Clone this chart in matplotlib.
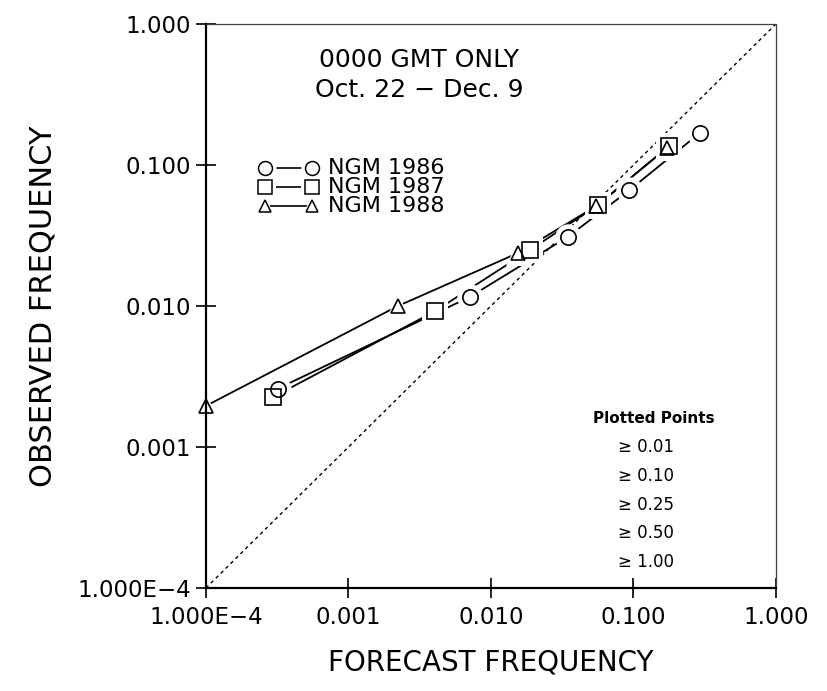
import matplotlib
matplotlib.use("Agg")
import matplotlib.pyplot as plt
import numpy as np

# forecast / observed frequencies
fc_1986 = [3.2e-4, 0.0071, 0.0347, 0.094, 0.293]
ob_1986 = [0.0026, 0.0116, 0.031, 0.0665, 0.169]

fc_1987 = [2.95e-4, 0.00405, 0.0188, 0.0564, 0.177]
ob_1987 = [0.00226, 0.0092, 0.025, 0.052, 0.136]

fc_1988 = [1.0e-4, 0.00222, 0.0155, 0.0546, 0.172]
ob_1988 = [0.00196, 0.0100, 0.0238, 0.051, 0.132]

series = [
    ("NGM 1986", "o", fc_1986, ob_1986),
    ("NGM 1987", "s", fc_1987, ob_1987),
    ("NGM 1988", "^", fc_1988, ob_1988),
]

tick_vals = [1e-4, 1e-3, 1e-2, 1e-1, 1.0]
tick_labels = ["1.000E\u22124", "0.001", "0.010", "0.100", "1.000"]
plotted_points = ["0.01", "0.10", "0.25", "0.50", "1.00"]

fig = plt.figure(figsize=(8.27, 6.91), dpi=100)
ax = fig.add_axes([0.249, 0.149, 0.689, 0.816])
ax.set_xscale("log")
ax.set_yscale("log")
ax.set_xlim(1e-4, 1.0)
ax.set_ylim(1e-4, 1.0)

# perfect reliability diagonal
ax.plot([1e-4, 1.0], [1e-4, 1.0], color="black", lw=1.0,
        linestyle=(0, (2.5, 2.5)), zorder=1)

msize = {"o": 11, "s": 11, "^": 10}
for name, mk, fx, fy in series:
    ax.plot(fx, fy, color="black", lw=1.3, zorder=1.5, clip_on=False)
    # white halo so the line stops short of each marker (kept under the spines)
    ax.plot(fx, fy, linestyle="none", marker=mk, ms=msize[mk] + 8,
            mfc="white", mec="white", mew=0, zorder=1.8, clip_on=False)
    ax.plot(fx, fy, linestyle="none", marker=mk, ms=msize[mk],
            mfc="none", mec="black", mew=1.2, zorder=4, clip_on=False)

# legend drawn by hand: marker - line - marker  label
leg_y = [0.745, 0.711, 0.677]
for (name, mk, fx, fy), yy in zip(series, leg_y):
    ax.plot([0.1035, 0.186], [yy, yy], color="black", lw=1.2,
            transform=ax.transAxes, zorder=2)
    ax.plot([0.1035, 0.186], [yy, yy], linestyle="none", marker=mk,
            ms=msize[mk] + 5, mfc="white", mec="white", mew=0,
            transform=ax.transAxes, zorder=3)
    ax.plot([0.1035, 0.186], [yy, yy], linestyle="none", marker=mk,
            ms=msize[mk] - 1, mfc="white", mec="black", mew=1.1,
            transform=ax.transAxes, zorder=4)
    ax.text(0.214, yy, name, transform=ax.transAxes, fontsize=16,
            va="center", ha="left")

ax.text(0.374, 0.936, "0000 GMT ONLY", transform=ax.transAxes,
        fontsize=18, ha="center", va="center")
ax.text(0.374, 0.883, "Oct. 22 \u2212 Dec. 9", transform=ax.transAxes,
        fontsize=18, ha="center", va="center")

ax.text(0.786, 0.301, "Plotted Points", transform=ax.transAxes,
        fontsize=11, fontweight="bold", ha="center", va="center")
pp_y = [0.25, 0.199, 0.147, 0.098, 0.046]
for lab, yy in zip(plotted_points, pp_y):
    ax.text(0.724, yy, "\u2265 " + lab, transform=ax.transAxes,
            fontsize=12, ha="left", va="center")

ax.set_xticks(tick_vals)
ax.set_xticklabels(tick_labels)
ax.set_yticks(tick_vals)
ax.set_yticklabels(tick_labels)
ax.minorticks_off()
ax.tick_params(axis="both", direction="inout", length=14, width=1.2,
               labelsize=16.5, pad=4)
ax.tick_params(axis="x", pad=6)

for side in ["left", "bottom"]:
    ax.spines[side].set_linewidth(1.6)
for side in ["top", "right"]:
    ax.spines[side].set_linewidth(0.9)
    ax.spines[side].set_linestyle((0, (1, 1)))
    ax.spines[side].set_color("0.25")

ax.set_xlabel("FORECAST FREQUENCY", fontsize=20, labelpad=14)
ax.set_ylabel("OBSERVED FREQUENCY", fontsize=22, labelpad=14)

fig.savefig("out.png", dpi=100)
